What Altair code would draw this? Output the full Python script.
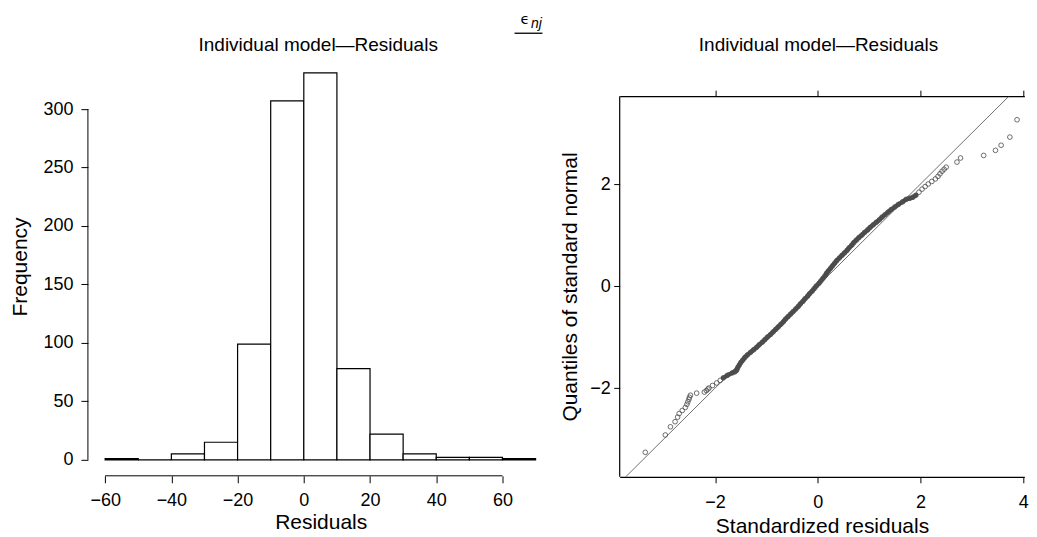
import altair as alt
import pandas as pd

FONT = "Liberation Sans"

# ---------------- histogram data (left panel) ----------------
bin_start = [-60, -50, -40, -30, -20, -10, 0, 10, 20, 30, 40, 50, 60]
bin_end = [-50, -40, -30, -20, -10, 0, 10, 20, 30, 40, 50, 60, 70]
counts = [1, 0, 5, 15, 99, 307, 331, 78, 22, 5, 2, 2, 1]
hist_x_ticks = [-60, -40, -20, 0, 20, 40, 60]
hist_y_ticks = [0, 50, 100, 150, 200, 250, 300]

# ---------------- normal Q-Q data (right panel) ----------------
qq_resid = [
    -3.36, -2.97, -2.87, -2.78, -2.73, -2.70, -2.64, -2.58, -2.55, -2.53,
    -2.51, -2.50, -2.48, -2.36, -2.21, -2.17, -2.14,
    -2.12, -2.05, -1.97, -1.90, -1.84, -1.76, -1.66, -1.61, -1.58, -1.56,
    -1.53, -1.50, -1.46, -1.42, -1.37, -1.31, -1.25, -1.19, -1.14, -1.08,
    -1.03, -0.98, -0.92, -0.87, -0.82, -0.77, -0.72, -0.67, -0.63, -0.58,
    -0.53, -0.48, -0.43, -0.38, -0.34, -0.29, -0.25, -0.20, -0.16, -0.11,
    -0.07, -0.03, 0.02, 0.06, 0.10, 0.14, 0.17, 0.21, 0.25, 0.29,
    0.33, 0.37, 0.42, 0.47, 0.52, 0.57, 0.61, 0.66, 0.70, 0.75,
    0.80, 0.86, 0.91, 0.97, 1.02, 1.08, 1.14, 1.20, 1.25, 1.31,
    1.37, 1.43, 1.50, 1.57, 1.65, 1.72, 1.79, 1.85, 1.91, 1.97,
    2.03, 2.09, 2.15, 2.22, 2.29, 2.34, 2.38, 2.42, 2.46, 2.50,
    2.71, 2.78, 3.23, 3.46, 3.57, 3.74, 3.88,
]
qq_quant = [
    -3.26, -2.92, -2.76, -2.66, -2.57, -2.50, -2.44, -2.38, -2.32, -2.27,
    -2.22, -2.18, -2.14, -2.10, -2.08, -2.05, -2.02,
    -2.00, -1.95, -1.90, -1.85, -1.80, -1.75, -1.70, -1.68, -1.65, -1.60,
    -1.55, -1.50, -1.45, -1.40, -1.35, -1.30, -1.25, -1.20, -1.15, -1.10,
    -1.05, -1.00, -0.95, -0.90, -0.85, -0.80, -0.75, -0.70, -0.65, -0.60,
    -0.55, -0.50, -0.45, -0.40, -0.35, -0.30, -0.25, -0.20, -0.15, -0.10,
    -0.05, 0.00, 0.05, 0.10, 0.15, 0.20, 0.25, 0.30, 0.35, 0.40,
    0.45, 0.50, 0.55, 0.60, 0.65, 0.70, 0.75, 0.80, 0.85, 0.90,
    0.95, 1.00, 1.05, 1.10, 1.15, 1.20, 1.25, 1.30, 1.35, 1.40,
    1.45, 1.50, 1.55, 1.60, 1.65, 1.70, 1.72, 1.74, 1.78, 1.84,
    1.90, 1.95, 2.00, 2.05, 2.10, 2.15, 2.20, 2.25, 2.29, 2.33,
    2.43, 2.51, 2.56, 2.66, 2.76, 2.92, 3.26,
]
qq_x_ticks = [-2, 0, 2, 4]
qq_y_ticks = [-2, 0, 2]
ref_line = [-3.74, 3.72]          # y = x reference line, across the box
box_bottom, box_top = -3.74, 3.72

title_text = "Individual model\u2014Residuals"
note_symbol = "\u03f5"
note_sub = "nj"

W1, H1 = 466, 419
W2, H2 = 405, 420
TOP_SHIFT = 39                      # right box top sits this far below the left plot top
PX_PER_UNIT = 51.4

one = pd.DataFrame({"k": [0]})

ax_common = dict(
    grid=False, domain=False, tickColor="black", tickWidth=1,
    labelFont=FONT, labelFontSize=18, labelColor="black",
    titleFont=FONT, titleFontSize=21, titleFontWeight="normal", titleColor="black",
)

# ---------------- left panel ----------------
hist_df = pd.DataFrame({"start": bin_start, "end": bin_end, "count": counts})
hx = alt.Scale(domain=[-65.2, 75.4], nice=False, zero=False)
hy = alt.Scale(domain=[-13.7, 344.4], nice=False, zero=False)

bars = alt.Chart(hist_df).mark_rect(fill="white", stroke="black", strokeWidth=1.2).encode(
    x=alt.X("start:Q", scale=hx,
            axis=alt.Axis(values=hist_x_ticks, title="Residuals", tickSize=7,
                          labelPadding=8.5, titlePadding=2, **ax_common)),
    x2="end:Q",
    y=alt.Y("count:Q", scale=hy,
            axis=alt.Axis(values=hist_y_ticks, title="Frequency", tickSize=7,
                          labelPadding=8, titlePadding=12, **ax_common)),
    y2=alt.datum(0),
)
x_line = alt.Chart(one).mark_rule(color="black", strokeWidth=1).encode(
    x=alt.datum(-60), x2=alt.datum(60), y=alt.value(H1)
)
y_line = alt.Chart(one).mark_rule(color="black", strokeWidth=1).encode(
    x=alt.value(0), y=alt.datum(0), y2=alt.datum(300)
)
left_title = alt.Chart(one).mark_text(
    text=title_text, font=FONT, fontSize=19, color="black", align="center", baseline="middle"
).encode(x=alt.value(230.5), y=alt.value(-12))
# invisible spacer that fixes the top of the drawing, so the note text sits fully inside
top_spacer = alt.Chart(one).mark_rule(strokeOpacity=0, strokeWidth=0).encode(
    x=alt.value(430), x2=alt.value(440), y=alt.value(-48.2)
)
note_eps = alt.Chart(one).mark_text(
    text=note_symbol, font="DejaVu Sans", fontSize=14.5, color="black",
    align="center", baseline="alphabetic"
).encode(x=alt.value(437.5), y=alt.value(-33.5))
note_nj = alt.Chart(one).mark_text(
    text=note_sub, font=FONT, fontSize=14, fontStyle="italic", color="black",
    align="left", baseline="alphabetic"
).encode(x=alt.value(443.5), y=alt.value(-29))
note_line = alt.Chart(one).mark_rule(color="black", strokeWidth=1.3).encode(
    x=alt.value(427), x2=alt.value(455), y=alt.value(-24)
)
left = alt.layer(
    bars, x_line, y_line, left_title, top_spacer, note_eps, note_nj, note_line
).properties(width=W1, height=H1)

# ---------------- right panel ----------------
qq_df = pd.DataFrame({"resid": qq_resid, "quant": qq_quant})
line_df = pd.DataFrame({"x": ref_line, "y": ref_line})
qx_left = -3.858
qx = alt.Scale(domain=[qx_left, qx_left + W2 / PX_PER_UNIT], nice=False, zero=False)
qy = alt.Scale(domain=[-3.74, 4.486], nice=False, zero=False)

ax_box = dict(ax_common)
ax_box.update(domain=True, domainColor="black", domainWidth=1.2)

ref = alt.Chart(line_df).mark_line(clip=True, color="#333333", strokeWidth=0.7).encode(
    x=alt.X("x:Q", scale=qx,
            axis=alt.Axis(orient="top", values=qq_x_ticks, labels=False, title=None,
                          tickSize=6, offset=-TOP_SHIFT, **ax_box)),
    y=alt.Y("y:Q", scale=qy, axis=None),
)
band = alt.Chart(qq_df).transform_filter(
    (alt.datum.quant >= -1.8) & (alt.datum.quant <= 1.8)
).mark_line(color="#4d4d4d", strokeWidth=4.5, strokeCap="round", strokeJoin="round").encode(
    x=alt.X("resid:Q", scale=qx, axis=None),
    y=alt.Y("quant:Q", scale=qy, axis=None),
    order="quant:Q",
)
pts = alt.Chart(qq_df).mark_point(shape="circle", filled=False, size=22, color="#4a4a4a",
                                  strokeWidth=0.8, opacity=1).encode(
    x=alt.X("resid:Q", scale=qx,
            axis=alt.Axis(orient="bottom", values=qq_x_ticks, title="Standardized residuals",
                          tickSize=6, labelPadding=11, titlePadding=3.5, **ax_box)),
    y=alt.Y("quant:Q", scale=qy,
            axis=alt.Axis(values=qq_y_ticks, title="Quantiles of standard normal",
                          tickSize=6, labelPadding=3.5, titlePadding=9,
                          titleY=(H2 + TOP_SHIFT) / 2, **ax_common)),
)
left_edge = alt.Chart(one).mark_rule(color="black", strokeWidth=1.2).encode(
    x=alt.value(0),
    y=alt.YDatum(box_bottom, scale=qy, axis=None),
    y2=alt.Y2Datum(box_top),
)
right_title = alt.Chart(one).mark_text(
    text=title_text, font=FONT, fontSize=19, color="black", align="center", baseline="middle"
).encode(x=alt.value(199), y=alt.value(-12))
right = alt.layer(ref, band, pts, left_edge, right_title).resolve_axis(
    x="independent", y="independent"
).properties(width=W2, height=H2)

chart = alt.hconcat(left, right, spacing=5.3).properties(
    padding={"left": 1, "top": 0, "right": 0, "bottom": 0},
).configure_view(stroke=None)

chart.save("out.html", embed_options={"renderer": "svg", "actions": False})
